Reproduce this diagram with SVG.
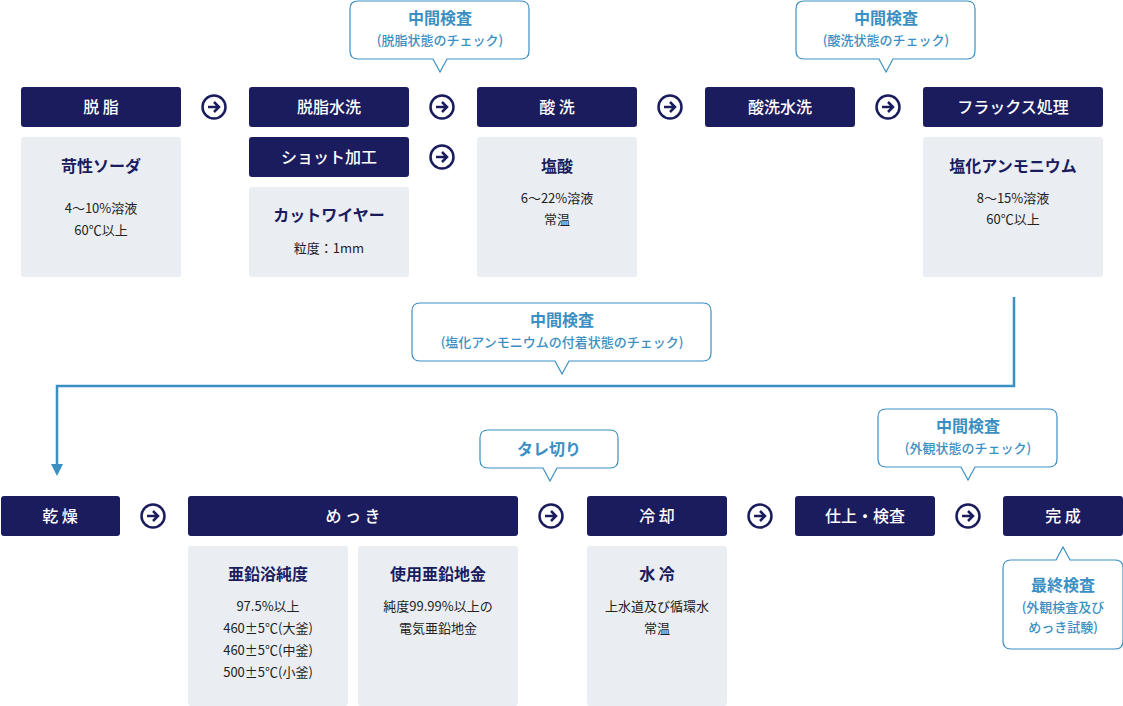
<svg xmlns="http://www.w3.org/2000/svg" width="1123" height="706" viewBox="0 0 1123 706">
<style>
text{font-family:"Noto Sans CJK JP","Noto Sans",sans-serif;text-anchor:middle}
.h{fill:#1b1c5e}
.ht{fill:#fff;font-size:16px;font-weight:500}
.p{fill:#eaeef3}
.pt{fill:#1b1c5e;font-size:16px;font-weight:700}
.ps{fill:#222;font-size:13px}
.c{fill:#fff;stroke:#3b8fc2;stroke-width:1.2}
.ct{fill:#3b8fc2;font-size:16px;font-weight:700}
.cs{fill:#3b8fc2;font-size:13px;font-weight:500}
.ar circle{fill:#fff;stroke:#1b1c5e;stroke-width:2.5}
.ar path{fill:none;stroke:#1b1c5e;stroke-width:2.5}
</style>
<defs>
<g id="arr" class="ar"><circle r="11.5"/><path d="M-6 0H5M0-5L5 0L0 5"/></g>
</defs>
<g id="connectors">
<path d="M1014 297V386H57V466" fill="none" stroke="#3b8fc2" stroke-width="2.5"/>
<path d="M51 464L57 476L63 464Z" fill="#3b8fc2"/>
<use href="#arr" x="214" y="107"/><use href="#arr" x="442" y="107"/><use href="#arr" x="442" y="157"/><use href="#arr" x="670" y="107"/><use href="#arr" x="888" y="107"/>
<use href="#arr" x="153" y="516"/><use href="#arr" x="551" y="516"/><use href="#arr" x="760" y="516"/><use href="#arr" x="968" y="516"/>
</g>
<g id="n1"><rect class="h" x="21" y="87" width="160" height="40" rx="3"/><text class="ht" x="101" y="113">脱 脂</text>
<rect class="p" x="21" y="137" width="160" height="140" rx="3"/><text class="pt" x="101" y="172">苛性ソーダ</text><text class="ps" x="101" y="213">4～10%溶液</text><text class="ps" x="101" y="235">60℃以上</text></g>
<g id="n2"><rect class="h" x="249" y="87" width="160" height="40" rx="3"/><text class="ht" x="329" y="113">脱脂水洗</text></g>
<g id="n3"><rect class="h" x="249" y="137" width="160" height="40" rx="3"/><text class="ht" x="329" y="163">ショット加工</text>
<rect class="p" x="249" y="187" width="160" height="90" rx="3"/><text class="pt" x="329" y="221">カットワイヤー</text><text class="ps" x="329" y="253">粒度：1mm</text></g>
<g id="n4"><rect class="h" x="477" y="87" width="160" height="40" rx="3"/><text class="ht" x="557" y="113">酸 洗</text>
<rect class="p" x="477" y="137" width="160" height="140" rx="3"/><text class="pt" x="557" y="172">塩酸</text><text class="ps" x="557" y="203">6～22%溶液</text><text class="ps" x="557" y="224">常温</text></g>
<g id="n5"><rect class="h" x="705" y="87" width="150" height="40" rx="3"/><text class="ht" x="780" y="113">酸洗水洗</text></g>
<g id="n6"><rect class="h" x="923" y="87" width="180" height="40" rx="3"/><text class="ht" x="1013" y="113">フラックス処理</text>
<rect class="p" x="923" y="137" width="180" height="140" rx="3"/><text class="pt" x="1013" y="172">塩化アンモニウム</text><text class="ps" x="1013" y="203">8～15%溶液</text><text class="ps" x="1013" y="224">60℃以上</text></g>
<g id="c1"><path class="c" d="M358 1H521Q529 1 529 9V51Q529 59 521 59H447L440 72L433 59H358Q350 59 350 51V9Q350 1 358 1Z"/><text class="ct" x="440" y="24">中間検査</text><text class="cs" x="440" y="45">(脱脂状態のチェック)</text></g>
<g id="c2"><path class="c" d="M804 1H967Q975 1 975 9V51Q975 59 967 59H893L886 72L879 59H804Q796 59 796 51V9Q796 1 804 1Z"/><text class="ct" x="886" y="24">中間検査</text><text class="cs" x="886" y="45">(酸洗状態のチェック)</text></g>
<g id="c3"><path class="c" d="M420 303H703Q711 303 711 311V353Q711 361 703 361H569L562 374L555 361H420Q412 361 412 353V311Q412 303 420 303Z"/><text class="ct" x="562" y="326">中間検査</text><text class="cs" x="562" y="347">(塩化アンモニウムの付着状態のチェック)</text></g>
<g id="n7"><rect class="h" x="1" y="496" width="119" height="40" rx="3"/><text class="ht" x="60" y="522">乾 燥</text></g>
<g id="n8"><rect class="h" x="188" y="496" width="330" height="40" rx="3"/><text class="ht" x="353" y="522">め っ き</text>
<rect class="p" x="188" y="546" width="160" height="160" rx="3"/><text class="pt" x="268" y="580">亜鉛浴純度</text><text class="ps" x="268" y="611">97.5%以上</text><text class="ps" x="268" y="633">460±5℃(大釜)</text><text class="ps" x="268" y="655">460±5℃(中釜)</text><text class="ps" x="268" y="677">500±5℃(小釜)</text>
<rect class="p" x="358" y="546" width="160" height="160" rx="3"/><text class="pt" x="438" y="580">使用亜鉛地金</text><text class="ps" x="438" y="611">純度99.99%以上の</text><text class="ps" x="438" y="633">電気亜鉛地金</text></g>
<g id="c4"><path class="c" d="M488 430H610Q618 430 618 438V460Q618 468 610 468H557L550 481L543 468H488Q480 468 480 460V438Q480 430 488 430Z"/><text class="ct" x="549" y="455">タレ切り</text></g>
<g id="n9"><rect class="h" x="587" y="496" width="140" height="40" rx="3"/><text class="ht" x="657" y="522">冷 却</text>
<rect class="p" x="587" y="546" width="140" height="160" rx="3"/><text class="pt" x="657" y="580">水 冷</text><text class="ps" x="657" y="611">上水道及び循環水</text><text class="ps" x="657" y="633">常温</text></g>
<g id="n10"><rect class="h" x="795" y="496" width="140" height="40" rx="3"/><text class="ht" x="865" y="522">仕上・検査</text></g>
<g id="c5"><path class="c" d="M886 409H1049Q1057 409 1057 417V459Q1057 467 1049 467H975L968 480L961 467H886Q878 467 878 459V417Q878 409 886 409Z"/><text class="ct" x="968" y="432">中間検査</text><text class="cs" x="968" y="453">(外観状態のチェック)</text></g>
<g id="n11"><rect class="h" x="1003" y="496" width="120" height="40" rx="3"/><text class="ht" x="1063" y="522">完 成</text></g>
<g id="c6"><path class="c" d="M1011 560H1056L1063 547L1070 560H1115Q1123 560 1123 568V641Q1123 649 1115 649H1011Q1003 649 1003 641V568Q1003 560 1011 560Z"/><text class="ct" x="1063" y="591">最終検査</text><text class="cs" x="1063" y="612">(外観検査及び</text><text class="cs" x="1063" y="632">めっき試験)</text></g>
</svg>
